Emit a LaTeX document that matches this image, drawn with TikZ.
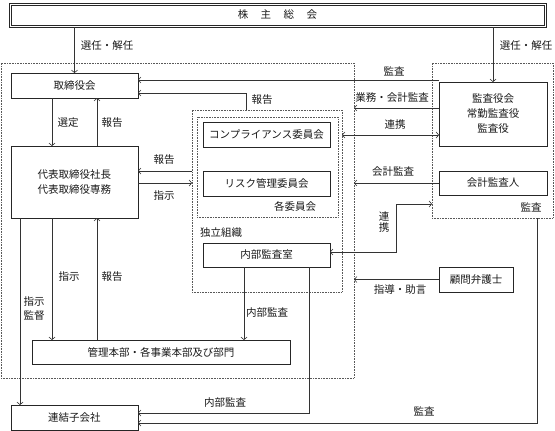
\documentclass[tikz,border=0pt]{standalone}
\usepackage{fontspec}
\newfontfamily\jp{Noto Sans CJK JP}
\usetikzlibrary{arrows.meta}
\begin{document}
\begin{tikzpicture}[x=1pt,y=-1pt,
  every node/.style={font=\jp\fontsize{10.5}{15}\selectfont, inner sep=0pt, outer sep=0pt, text=black!90},
  box/.style={draw=black!85, line width=0.7pt, rectangle, align=center},
  dotbox/.style={draw=black!65, densely dotted, line width=0.6pt, rectangle},
  conn/.style={line width=0.7pt, draw=black!80},
  arr/.style={conn, -{Straight Barb[length=2.5pt,width=6pt,line width=0.6pt]}},
  dbl/.style={conn, {Straight Barb[length=2.5pt,width=6pt,line width=0.6pt]}-{Straight Barb[length=2.5pt,width=6pt,line width=0.6pt]}}]
\useasboundingbox (0,0) rectangle (555,431);
% containers
\node[dotbox, minimum width=353pt, minimum height=315pt] (big) at (177.5,220.5) {};
\node[dotbox, minimum width=121pt, minimum height=155pt] (right) at (492.5,140.5) {};
\node[dotbox, minimum width=150pt, minimum height=182pt] (cout) at (267,201) {};
\node[dotbox, minimum width=141pt, minimum height=100pt] (cin) at (267.5,167) {};
% boxes
\node[box, line width=0.8pt, minimum width=537pt, minimum height=24pt] (kabu) at (277.5,15) {株\hspace{12.5pt}主\hspace{12.5pt}総\hspace{12.5pt}会};
\draw[line width=0.6pt, draw=black!85] ([xshift=2pt,yshift=-2pt]kabu.north west) rectangle ([xshift=-2pt,yshift=2pt]kabu.south east);
\node[box, minimum width=127pt, minimum height=25pt] (tori) at (74.5,85.5) {取締役会};
\node[box, minimum width=108pt, minimum height=64pt] (kansa) at (493,114) {監査役会\\常勤監査役\\監査役};
\node[box, minimum width=127pt, minimum height=72pt] (daihyo) at (74.5,182) {代表取締役社長\\代表取締役専務};
\node[box, minimum width=127pt, minimum height=25pt] (comp) at (266.5,134.5) {コンプライアンス委員会};
\node[box, minimum width=127pt, minimum height=25pt] (risk) at (266.5,183.5) {リスク管理委員会};
\node[box, minimum width=127pt, minimum height=24pt] (naibu) at (266.5,255) {内部監査室};
\node[box, minimum width=108pt, minimum height=24pt] (kaikei) at (493,183) {会計監査人};
\node[box, minimum width=74pt, minimum height=25pt] (komon) at (476,279.5) {顧問弁護士};
\node[box, minimum width=258pt, minimum height=24pt] (kanri) at (161,352) {管理本部・各事業本部及び部門};
\node[box, minimum width=127pt, minimum height=25pt] (renketsu) at (74.5,417.5) {連結子会社};
% labels
\node (l1) at (107,46) {選任・解任};
\node (l2) at (526,46) {選任・解任};
\node (l3) at (394,71) {監査};
\node (l4) at (262,100) {報告};
\node (l5) at (392,98) {業務・会計監査};
\node (l6) at (395,125) {連携};
\node (l7) at (393,172) {会計監査};
\node[align=center, font=\jp\fontsize{10.5}{11}\selectfont] (l8) at (384,222) {連\\携};
\node (l9) at (531,207) {監査};
\node (l10) at (400,290) {指導・助言};
\node (l11) at (68,123) {選定};
\node (l12) at (112,123) {報告};
\node (l13) at (164,160) {報告};
\node (l14) at (164,196) {指示};
\node (l15) at (69,277) {指示};
\node (l16) at (112,277) {報告};
\node[align=center, font=\jp\fontsize{10.5}{14}\selectfont] (l17) at (34,309) {指示\\監督};
\node (l18) at (267,313) {内部監査};
\node (l19) at (225,403) {内部監査};
\node (l20) at (424,411) {監査};
\node (l21) at (295,206) {各委員会};
\node (l22) at (221,233) {独立組織};
% connectors
\draw[arr] (kabu.south -| tori.north) -- (tori.north);
\draw[arr] (kabu.south -| kansa.north) -- (kansa.north);
\draw[arr] (kansa.west |- 0,80) -- (tori.east |- 0,80);
\draw[arr] (cout.north -| 246,0) |- (tori.east |- 0,93);
\draw[arr] (kansa.west |- 0,108) -- (big.east |- 0,108);
\draw[dbl] (cout.east |- 0,135) -- (kansa.west |- 0,135);
\draw[arr] (kaikei.west) -- (big.east |- kaikei.west);
\coordinate (rk) at (396,204);
\draw[dbl] (naibu.east |- 0,252) -| (rk) -- (right.west |- rk);
\draw[arr] (komon.west) -- (big.east |- komon.west);
\draw[arr] (tori.south -| 52,0) -- (daihyo.north -| 52,0);
\draw[arr] (daihyo.north -| 97,0) -- (tori.south -| 97,0);
\draw[arr] (cout.west |- 0,171) -- (daihyo.east |- 0,171);
\draw[arr] (daihyo.east |- 0,183) -- (cout.west |- 0,183);
\draw[arr] (daihyo.south -| 52,0) -- (kanri.north -| 52,0);
\draw[arr] (kanri.north -| 97,0) -- (daihyo.south -| 97,0);
\draw[arr] (daihyo.south -| 20,0) -- (renketsu.north -| 20,0);
\draw[arr] (naibu.south -| 244,0) -- (kanri.north -| 244,0);
\draw[arr] (naibu.south -| 309,0) |- (renketsu.east |- 0,413);
\draw[arr] (right.south -| 537,0) |- (renketsu.east |- 0,423);
\end{tikzpicture}
\end{document}
